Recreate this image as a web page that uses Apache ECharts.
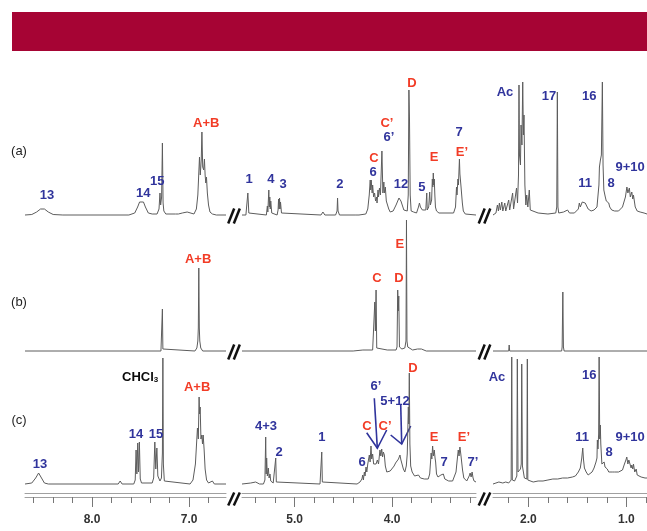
<!DOCTYPE html>
<html><head><meta charset="utf-8">
<script src="https://cdn.jsdelivr.net/npm/echarts@6/dist/echarts.min.js"></script>
<style>html,body{margin:0;padding:0;background:#fff}#c{width:647px;height:531px}</style>
</head><body><div id="c"></div>
<script>
// ---------- DATA (ppm, intensity above each trace's own baseline) ----------
const segRanges = [[6.62, 8.69], [3.14, 5.54], [0.79, 2.36]];
const minorTicks = [
  [6.8, 7.0, 7.2, 7.4, 7.6, 7.8, 8.0, 8.2, 8.4, 8.6],
  [3.2, 3.4, 3.6, 3.8, 4.0, 4.2, 4.4, 4.6, 4.8, 5.0, 5.2, 5.4],
  [0.8, 1.0, 1.2, 1.4, 1.6, 1.8, 2.0, 2.2]
];
const majorTicks = [[7.0, 8.0], [4.0, 5.0], [1.0, 2.0]];

// spectrum (a)
const specA1 = [[8.69,0],[8.62,0.5],[8.57,3],[8.53,6],[8.51,7],[8.49,6],[8.45,3],[8.40,0.5],[8.30,0],[7.62,0],[7.56,2],[7.53,8],[7.51,13],[7.49,14],[7.47,13],[7.45,8],[7.42,2],[7.38,1],[7.33,1],[7.31,6],[7.30,22],[7.293,10],[7.283,18],[7.275,72],[7.268,12],[7.26,4],[7.24,1],[7.14,1],[7.12,3],[7.11,1],[7.07,2],[7.06,1],[7.02,3],[7.01,1],[6.95,1],[6.925,6],[6.91,20],[6.893,58],[6.885,40],[6.875,55],[6.868,83],[6.86,48],[6.85,45],[6.842,56],[6.835,40],[6.828,32],[6.821,38],[6.812,22],[6.80,10],[6.785,3],[6.76,1],[6.72,0],[6.62,0]];
const specA2 = [[5.54,0],[5.50,0],[5.49,2],[5.48,22],[5.47,2],[5.46,0],[5.29,0],[5.28,9],[5.275,3],[5.265,25],[5.26,8],[5.255,18],[5.25,6],[5.245,14],[5.235,2],[5.22,0],[5.18,0],[5.17,5],[5.165,16],[5.16,6],[5.155,17],[5.15,6],[5.145,13],[5.135,2],[5.12,0],[4.73,0],[4.71,3],[4.69,0],[4.58,0],[4.565,4],[4.56,17],[4.555,4],[4.54,0],[4.38,0],[4.36,2],[4.34,0],[4.27,1],[4.25,6],[4.235,20],[4.225,35],[4.22,25],[4.215,35],[4.205,22],[4.20,30],[4.19,18],[4.18,22],[4.17,14],[4.16,18],[4.155,12],[4.145,25],[4.14,18],[4.13,27],[4.12,20],[4.105,64],[4.095,22],[4.085,33],[4.08,22],[4.07,28],[4.06,14],[4.05,16],[4.035,6],[4.02,3],[3.99,4],[3.96,10],[3.93,17],[3.91,14],[3.88,5],[3.845,4],[3.835,20],[3.828,125],[3.822,95],[3.815,20],[3.805,4],[3.78,3],[3.75,2],[3.73,8],[3.72,12],[3.71,8],[3.70,10],[3.69,5],[3.675,3],[3.655,5],[3.645,22],[3.64,5],[3.625,8],[3.615,23],[3.608,10],[3.595,15],[3.588,36],[3.583,28],[3.578,42],[3.573,30],[3.568,36],[3.562,20],[3.556,8],[3.545,4],[3.52,2],[3.37,2],[3.35,8],[3.34,28],[3.335,20],[3.325,36],[3.32,30],[3.31,56],[3.305,41],[3.30,41],[3.295,30],[3.29,28],[3.28,12],[3.27,4],[3.25,1],[3.14,0]];
const specA3 = [[2.36,0],[2.33,2],[2.315,10],[2.305,4],[2.295,12],[2.285,5],[2.27,13],[2.26,4],[2.25,8],[2.24,12],[2.23,4],[2.21,6],[2.20,15],[2.19,5],[2.17,6],[2.16,22],[2.15,6],[2.13,8],[2.12,27],[2.11,12],[2.10,40],[2.095,130],[2.09,60],[2.08,50],[2.074,90],[2.065,70],[2.057,133],[2.05,80],[2.044,100],[2.035,30],[2.025,10],[2.016,20],[2.005,8],[1.99,25],[1.98,5],[1.96,3],[1.90,2],[1.80,1],[1.72,2],[1.71,8],[1.704,123],[1.698,8],[1.69,2],[1.64,3],[1.62,2],[1.60,5],[1.58,2],[1.56,4],[1.53,2],[1.51,3],[1.49,6],[1.48,12],[1.47,8],[1.45,13],[1.44,15],[1.42,12],[1.41,13],[1.39,6],[1.36,4],[1.33,5],[1.30,8],[1.29,10],[1.28,30],[1.275,48],[1.265,55],[1.255,60],[1.245,133],[1.238,50],[1.23,25],[1.215,18],[1.205,14],[1.19,16],[1.18,12],[1.17,8],[1.15,5],[1.12,4],[1.08,4],[1.04,8],[1.01,18],[0.995,28],[0.985,22],[0.97,27],[0.96,18],[0.945,23],[0.935,16],[0.928,20],[0.91,8],[0.89,4],[0.86,3],[0.82,2],[0.79,1]];

// spectrum (b)
const specB1 = [[8.69,0],[7.29,0],[7.28,2],[7.275,42],[7.27,2],[7.26,0],[6.94,0],[6.92,3],[6.91,10],[6.905,23],[6.90,83],[6.895,23],[6.89,10],[6.88,3],[6.86,0],[6.62,0]];
const specB2 = [[5.54,0],[4.40,0],[4.30,1],[4.20,1],[4.185,3],[4.178,49],[4.172,20],[4.165,61],[4.158,3],[4.15,1],[4.05,1],[3.96,1],[3.95,4],[3.943,61],[3.937,40],[3.932,55],[3.925,4],[3.90,2],[3.87,3],[3.858,10],[3.853,131],[3.848,10],[3.84,4],[3.82,3],[3.79,1],[3.74,2],[3.72,1],[3.70,2],[3.65,0],[3.14,0]];
const specB3 = [[2.36,0],[2.20,0],[2.195,6],[2.19,0],[1.66,0],[1.655,4],[1.648,59],[1.642,4],[1.635,0],[0.79,0]];

// spectrum (c)
const specC1 = [[8.69,0],[8.62,1],[8.58,6],[8.55,11],[8.52,6],[8.49,1],[8.45,0],[7.73,0],[7.71,3],[7.69,0],[7.57,0],[7.555,4],[7.546,34],[7.538,10],[7.529,41],[7.521,12],[7.512,42],[7.503,5],[7.49,1],[7.38,1],[7.365,6],[7.353,42],[7.343,15],[7.332,36],[7.322,8],[7.30,3],[7.285,6],[7.275,31],[7.27,126],[7.265,20],[7.255,3],[7.24,1],[6.99,0],[6.96,4],[6.935,20],[6.914,56],[6.905,45],[6.897,87],[6.892,70],[6.886,77],[6.878,45],[6.869,49],[6.862,40],[6.855,49],[6.845,34],[6.835,15],[6.82,4],[6.80,1],[6.76,3],[6.74,0],[6.62,0]];
const specC2 = [[5.54,0],[5.45,1],[5.40,2],[5.36,0],[5.32,0],[5.305,4],[5.297,47],[5.292,10],[5.287,26],[5.28,8],[5.27,16],[5.262,6],[5.253,10],[5.245,3],[5.22,1],[5.20,2],[5.194,26],[5.188,2],[5.17,0],[4.74,0],[4.728,2],[4.722,32],[4.716,2],[4.70,0],[4.36,0],[4.33,2],[4.31,5],[4.302,9],[4.295,4],[4.285,12],[4.278,8],[4.268,17],[4.26,12],[4.25,20],[4.234,29],[4.226,22],[4.217,38],[4.21,25],[4.20,30],[4.19,20],[4.176,18],[4.165,20],[4.152,24],[4.14,20],[4.125,34],[4.116,28],[4.107,35],[4.098,27],[4.09,32],[4.08,29],[4.07,18],[4.055,12],[4.04,11],[4.02,13],[4.00,15],[3.98,18],[3.965,21],[3.947,19],[3.935,25],[3.92,29],[3.91,24],[3.90,22],[3.885,15],[3.87,12],[3.855,18],[3.845,30],[3.834,77],[3.829,60],[3.824,111],[3.818,40],[3.81,18],[3.795,12],[3.783,11],[3.77,8],[3.75,7],[3.73,9],[3.71,6],[3.69,7],[3.67,5],[3.65,6],[3.63,5],[3.615,10],[3.60,31],[3.593,25],[3.585,38],[3.577,28],[3.568,34],[3.56,26],[3.554,22],[3.545,10],[3.53,7],[3.515,6],[3.50,9],[3.492,11],[3.485,8],[3.475,10],[3.46,5],[3.44,4],[3.42,3],[3.40,4],[3.38,3],[3.36,5],[3.345,12],[3.335,22],[3.322,34],[3.314,28],[3.305,37],[3.296,30],[3.287,29],[3.278,14],[3.265,6],[3.25,4],[3.235,3],[3.22,5],[3.21,8],[3.20,11],[3.19,7],[3.18,12],[3.17,6],[3.16,3],[3.14,2]];
const specC3 = [[2.36,0],[2.33,1],[2.30,2],[2.28,3],[2.26,1],[2.23,2],[2.20,1],[2.18,2],[2.175,4],[2.169,127],[2.163,4],[2.14,3],[2.125,5],[2.117,8],[2.112,125],[2.105,12],[2.09,10],[2.08,15],[2.072,20],[2.067,120],[2.06,18],[2.04,6],[2.02,4],[2.015,5],[2.01,125],[2.005,4],[1.99,2],[1.95,2],[1.90,3],[1.85,3],[1.80,4],[1.75,5],[1.70,5],[1.65,6],[1.60,6],[1.55,7],[1.52,8],[1.49,12],[1.47,16],[1.455,26],[1.445,36],[1.438,25],[1.428,16],[1.42,17],[1.41,12],[1.39,9],[1.37,10],[1.35,12],[1.33,16],[1.31,22],[1.30,26],[1.296,44],[1.29,35],[1.283,50],[1.278,127],[1.272,45],[1.266,59],[1.261,40],[1.25,20],[1.24,18],[1.227,22],[1.218,17],[1.207,19],[1.195,15],[1.18,12],[1.16,11],[1.145,12],[1.132,11],[1.12,12],[1.10,13],[1.08,12],[1.06,12],[1.04,14],[1.02,20],[1.005,24],[0.996,27],[0.985,20],[0.975,24],[0.962,22],[0.952,16],[0.945,19],[0.935,15],[0.928,20],[0.915,12],[0.90,15],[0.89,9],[0.87,8],[0.85,7],[0.83,7],[0.81,6],[0.79,6]];

// peak assignments: [text, ppm, height above the trace baseline, kind]  (b=blue, r=red, k=black)
const labelsA = [["13",8.463,20,"b"],["14",7.473,22,"b"],["15",7.329,34,"b"],["A+B",6.824,92,"r"],["1",5.468,36,"b"],["4",5.243,36,"b"],["3",5.119,31,"b"],["2",4.535,31,"b"],["C",4.186,57,"r"],["6",4.196,43,"b"],["C\u2019",4.053,92,"r"],["6\u2019",4.032,78,"b"],["D",3.796,132,"r"],["12",3.909,31,"b"],["5",3.694,28,"b"],["E",3.571,58,"r"],["7",3.314,83,"b"],["E\u2019",3.284,63,"r"],["Ac",2.238,123,"b"],["17",1.789,119,"b"],["16",1.380,119,"b"],["11",1.421,32,"b"],["8",1.156,32,"b"],["9+10",0.962,48,"b"]];
const labelsB = [["A+B",6.907,92,"r"],["C",4.155,73,"r"],["D",3.93,73,"r"],["E",3.92,107,"r"]];
const labelsC = [["CHCl3",7.504,108,"k"],["A+B",6.917,97,"r"],["14",7.546,50,"b"],["15",7.34,50,"b"],["13",8.535,20,"b"],["4+3",5.294,58,"b"],["2",5.16,32,"b"],["1",4.72,47,"b"],["6\u2019",4.166,98,"b"],["5+12",3.971,83,"b"],["C",4.258,58,"r"],["C\u2019",4.073,58,"r"],["D",3.786,116,"r"],["6",4.309,22,"b"],["E",3.571,47,"r"],["7",3.468,22,"b"],["E\u2019",3.263,47,"r"],["7\u2019",3.171,22,"b"],["Ac",2.319,107,"b"],["16",1.38,109,"b"],["11",1.452,47,"b"],["8",1.176,32,"b"],["9+10",0.962,47,"b"]];
// arrows in (c): polylines [ppm, height]
const arrowsC = [
  [[4.183,85.7],[4.152,35.7]], [[4.261,51.3],[4.152,35.7],[4.056,54]],
  [[3.912,79],[3.902,40]], [[4.015,49],[3.902,40],[3.810,58]]
];
const panelNames = ["(a)", "(b)", "(c)"];

// ---------- LAYOUT / STYLE ----------
const baseOffsets = [278, 142, 9];
const yTop = 433;
const gridBox = [{left:25,width:201},{left:242,width:234},{left:493,width:154}];
const BLUE = '#30349c', RED = '#f23c26', BLACK = '#0a0a0a', LINE = '#5c5c5c';
const FONT = '"Liberation Sans", Arial, sans-serif';

const chart = echarts.init(document.getElementById('c'), null, {renderer:'canvas'});
const grids = [], xAxes = [], yAxes = [], series = [];
segRanges.forEach((r, g) => {
  grids.push({left: gridBox[g].left, width: gridBox[g].width, top: 60, bottom: 38});
  const base = {gridIndex:g, type:'value', min:r[0], max:r[1], inverse:true, position:'bottom', splitLine:{show:false}};
  xAxes.push(Object.assign({}, base, {offset:0, axisLine:{show:true, lineStyle:{color:'#a0a0a0', width:1}}, axisTick:{show:false}, axisLabel:{show:false}}));
  xAxes.push(Object.assign({}, base, {offset:4, axisLine:{show:true, lineStyle:{color:'#a0a0a0', width:1}}, axisTick:{show:true, customValues:minorTicks[g], length:6, lineStyle:{color:'#777'}}, axisLabel:{show:false}}));
  xAxes.push(Object.assign({}, base, {offset:4, axisLine:{show:false}, axisTick:{show:true, customValues:majorTicks[g], length:10, lineStyle:{color:'#777'}}, axisLabel:{show:true, customValues:majorTicks[g], formatter:v=>v.toFixed(1), margin:17, fontSize:12, fontWeight:'bold', color:'#333', fontFamily:'Liberation Sans'}}));
  yAxes.push({gridIndex:g, type:'value', min:0, max:yTop, show:false});
});

const specs = [[specA1,specA2,specA3],[specB1,specB2,specB3],[specC1,specC2,specC3]];
specs.forEach((segs, s) => {
  segs.forEach((seg, g) => {
    series.push({type:'line', xAxisIndex:g*3+1, yAxisIndex:g, silent:true, showSymbol:false, symbol:'none',
      lineStyle:{color:LINE, width:1}, animation:false,
      data: seg.map(p => [p[0], p[1] + baseOffsets[s]])});
  });
});
series.push({type:'lines', coordinateSystem:'cartesian2d', xAxisIndex:4, yAxisIndex:1, polyline:true, silent:true, animation:false,
  lineStyle:{color:BLUE, width:1.6, opacity:1},
  data: arrowsC.map(a => ({coords: a.map(p => [p[0], p[1] + baseOffsets[2]])}))});

chart.setOption({animation:false, grid:grids, xAxis:xAxes, yAxis:yAxes, series:series});

// decorations: banner, peak labels (placed through the axes), panel names, break marks
function segOf(ppm){ for (let g=0; g<3; g++){ if (ppm>=segRanges[g][0] && ppm<=segRanges[g][1]) return g; } return 0; }
const gfx = [{type:'rect', shape:{x:12, y:12, width:635, height:39}, style:{fill:'#a60434'}, silent:true}];
[labelsA, labelsB, labelsC].forEach((list, s) => {
  list.forEach(l => {
    const g = segOf(l[1]);
    const pt = chart.convertToPixel({gridIndex:g}, [l[1], l[2] + baseOffsets[s]]);
    const fill = l[3]==='r' ? RED : (l[3]==='b' ? BLUE : BLACK);
    const st = {text: l[0], fill: fill, font: 'bold 13px ' + FONT, textAlign:'center', textVerticalAlign:'middle'};
    if (l[0] === 'CHCl3') {
      st.text = '{m|CHCl}{s|3}';
      st.rich = {m:{fill:BLACK, font:'bold 13px ' + FONT, lineHeight:16, verticalAlign:'bottom'},
                 s:{fill:BLACK, font:'bold 8px ' + FONT, lineHeight:12, verticalAlign:'bottom'}};
    }
    gfx.push({type:'text', x:pt[0], y:pt[1], style:st, silent:true, z:10});
  });
});
const panelY = [151, 302, 420];
panelNames.forEach((t, i) => gfx.push({type:'text', x:19, y:panelY[i], style:{text:t, fill:'#222', font:'13px ' + FONT, textAlign:'center', textVerticalAlign:'middle'}, silent:true}));
function slashes(cx, cy, h){
  [-2.8, 2.8].forEach(o => gfx.push({type:'line', shape:{x1:cx+o-3, y1:cy+h, x2:cx+o+3, y2:cy-h}, style:{stroke:'#111', lineWidth:2.5}, silent:true}));
}
for (let g = 0; g < 2; g++) {
  const xr = chart.convertToPixel({gridIndex:g}, [segRanges[g][0], 0])[0];
  const xl = chart.convertToPixel({gridIndex:g+1}, [segRanges[g+1][1], 0])[0];
  const cx = (xr + xl) / 2;
  [0, 1].forEach(s => {
    const cy = chart.convertToPixel({gridIndex:g}, [segRanges[g][0], baseOffsets[s]])[1];
    slashes(cx, cy + 1, 7.5);
  });
  const axisY = chart.convertToPixel({gridIndex:g}, [segRanges[g][0], 0])[1];
  slashes(cx, axisY + 6, 6.5);
}
chart.setOption({graphic: gfx});
</script></body></html>
